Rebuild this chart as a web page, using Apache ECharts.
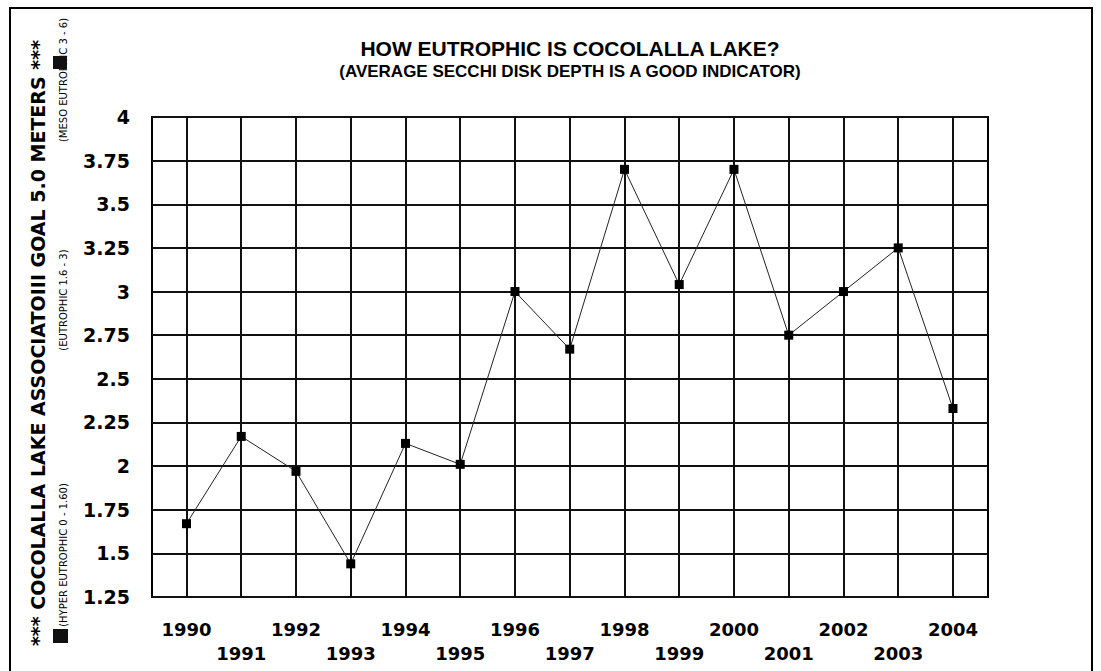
<!DOCTYPE html>
<html>
<head>
<meta charset="utf-8">
<script src="https://cdn.jsdelivr.net/npm/echarts@6/dist/echarts.min.js"></script>
<style>html,body{margin:0;padding:0;background:#fff;}#c{width:1101px;height:671px;}</style>
</head>
<body>
<div id="c"></div>
<script>
var years = [1990,1991,1992,1993,1994,1995,1996,1997,1998,1999,2000,2001,2002,2003,2004];
var secchiDepth = [1.67,2.17,1.97,1.44,2.13,2.01,3.0,2.67,3.7,3.04,3.7,2.75,3.0,3.25,2.33];
var yTicks = [1.25,1.5,1.75,2,2.25,2.5,2.75,3,3.25,3.5,3.75,4];
var titleLine1 = 'HOW EUTROPHIC IS COCOLALLA LAKE?';
var titleLine2 = '(AVERAGE SECCHI DISK DEPTH IS A GOOD INDICATOR)';
var yName = '*** COCOLALLA LAKE ASSOCIATOIII GOAL 5.0 METERS ***';
var zoneLabels = ['(HYPER EUTROPHIC 0 - 1.60)', '(EUTROPHIC 1.6 - 3)', '(MESO EUTROPHIC 3 - 6)'];

var chart = echarts.init(document.getElementById('c'), null, {renderer: 'svg'});
var font = 'DejaVu Sans';
var pts = years.map(function (y, i) { return [y, secchiDepth[i]]; });

chart.setOption({
  backgroundColor: '#fff',
  animation: false,
  title: {
    text: titleLine1,
    subtext: titleLine2,
    left: 565,
    textAlign: 'center',
    top: 33,
    itemGap: 4,
    textStyle: {fontFamily: 'Liberation Sans', fontWeight: 'bold', fontSize: 21, color: '#000'},
    subtextStyle: {fontFamily: 'Liberation Sans', fontWeight: 'bold', fontSize: 17, color: '#000'}
  },
  grid: {left: 152, right: 113, top: 117, bottom: 74, show: true, borderColor: '#000', borderWidth: 2, backgroundColor: '#fff'},
  xAxis: {
    type: 'value',
    min: 1989.37,
    max: 2004.64,
    axisLine: {show: false},
    axisTick: {show: false, customValues: years},
    splitLine: {show: true, lineStyle: {color: '#111', width: 2}},
    axisLabel: {
      customValues: years,
      margin: 20,
      fontFamily: font,
      fontWeight: 'bold',
      fontSize: 18,
      lineHeight: 24,
      color: '#000',
      formatter: function (v) { return (v % 2 === 1 ? '\n' : '') + v; }
    }
  },
  yAxis: {
    type: 'value',
    min: yTicks[0],
    max: yTicks[yTicks.length - 1],
    interval: 0.25,
    axisLine: {show: false},
    axisTick: {show: false},
    splitLine: {show: true, lineStyle: {color: '#111', width: 2}},
    axisLabel: {margin: 22, fontFamily: font, fontWeight: 'bold', fontSize: 19, color: '#000'}
  },
  series: [{
    type: 'line',
    data: pts,
    symbol: 'rect',
    symbolSize: 9,
    itemStyle: {color: '#000'},
    lineStyle: {color: '#222', width: 1}
  }],
  graphic: [
    {type: 'rect', shape: {x: 10, y: 8, width: 1082, height: 680}, style: {fill: 'none', stroke: '#000', lineWidth: 2}, z: -10},
    {type: 'text', x: 38, y: 343, rotation: Math.PI / 2,
      style: {text: yName, fontFamily: font, fontWeight: 'bold', fontSize: 19, fill: '#000', textAlign: 'center', textVerticalAlign: 'middle'}},
    {type: 'text', x: 63, y: 555, rotation: Math.PI / 2,
      style: {text: zoneLabels[0], fontFamily: font, fontSize: 10, fill: '#000', textAlign: 'center', textVerticalAlign: 'middle'}},
    {type: 'text', x: 63, y: 300, rotation: Math.PI / 2,
      style: {text: zoneLabels[1], fontFamily: font, fontSize: 10, fill: '#000', textAlign: 'center', textVerticalAlign: 'middle'}},
    {type: 'text', x: 63, y: 80, rotation: Math.PI / 2,
      style: {text: zoneLabels[2], fontFamily: font, fontSize: 10, fill: '#000', textAlign: 'center', textVerticalAlign: 'middle'}},
    {type: 'rect', shape: {x: 53, y: 56, width: 14, height: 13}, style: {fill: '#111'}},
    {type: 'rect', shape: {x: 53, y: 629, width: 15, height: 14}, style: {fill: '#111'}}
  ]
});
</script>
</body>
</html>
